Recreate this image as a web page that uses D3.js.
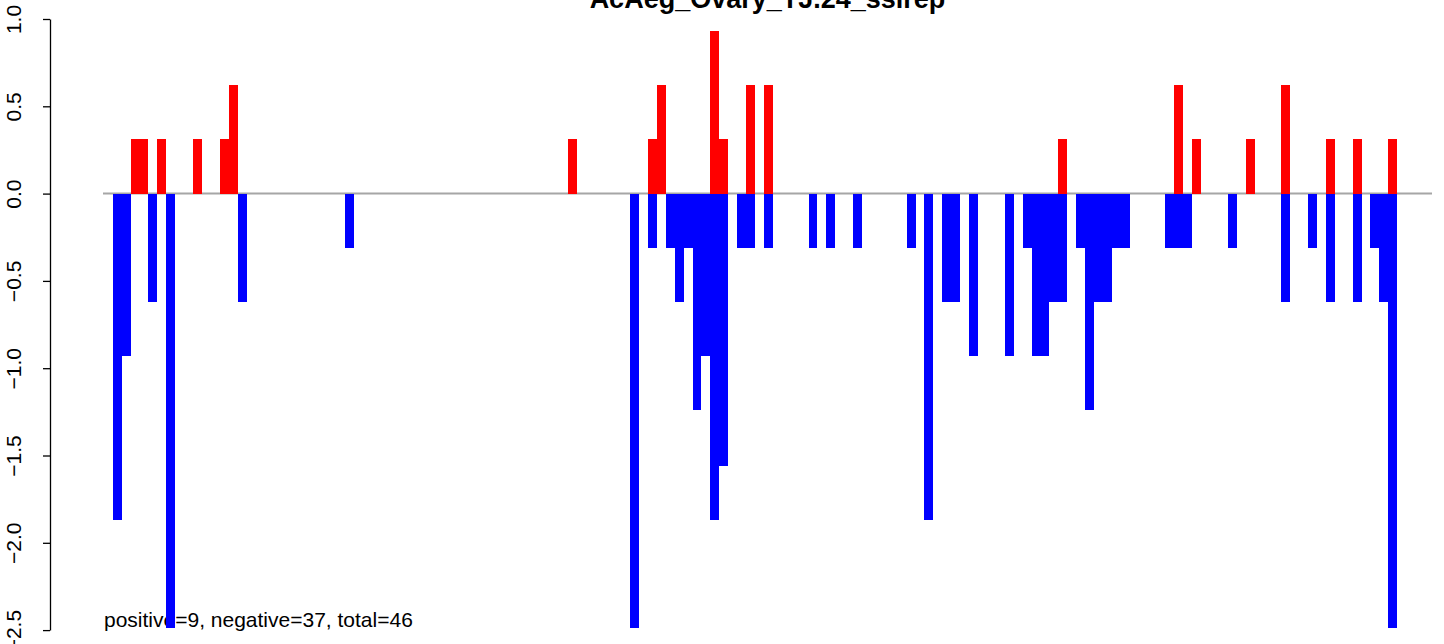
<!DOCTYPE html>
<html>
<head>
<meta charset="utf-8">
<script src="https://cdn.jsdelivr.net/npm/d3@7"></script>
<style>
  html, body { margin: 0; padding: 0; background: #fff; }
  svg { display: block; }
  text { font-family: "Liberation Sans", Arial, Helvetica, sans-serif; }
</style>
</head>
<body>
<svg id="chart" width="1444" height="644"></svg>
<script>
// ---- Data ----
const title = "AcAeg_Ovary_TJ.24_sslrep";
const footnote = "positive=9, negative=37, total=46";

// slot positions (index along the sequence) and values of the positive (red) bars
const posSlots  = [2, 3, 5, 9, 12, 13, 51, 60, 61, 67, 68, 71, 73, 106, 119, 121, 127, 131, 136, 139, 143];
const posValues = [0.31, 0.31, 0.31, 0.31, 0.31, 0.62, 0.31, 0.31, 0.62, 0.93, 0.31, 0.62, 0.62, 0.31, 0.62, 0.31, 0.31, 0.62, 0.31, 0.31, 0.31];

// slot positions and values of the negative (blue) bars
const negSlots  = [0, 1, 4, 6, 14, 26, 58, 60, 62, 63, 64, 65, 66, 67, 68, 70, 71, 73, 78, 80, 83, 89, 91, 93, 94, 96,
                   100, 102, 103, 104, 105, 106, 108, 109, 110, 111, 112, 113, 118, 119, 120, 125, 131, 134, 136, 139, 141, 142, 143];
const negValues = [-1.87, -0.93, -0.62, -2.49, -0.62, -0.31, -2.49, -0.31, -0.31, -0.62, -0.31, -1.24, -0.93, -1.87, -1.56, -0.31, -0.31, -0.31, -0.31, -0.31, -0.31, -0.31, -1.87, -0.62, -0.62, -0.93,
                   -0.93, -0.31, -0.93, -0.93, -0.62, -0.62, -0.31, -1.24, -0.62, -0.62, -0.31, -0.31, -0.31, -0.31, -0.31, -0.31, -0.62, -0.31, -0.62, -0.62, -0.31, -0.62, -2.49];

const yTicks = [-2.5, -2.0, -1.5, -1.0, -0.5, 0.0, 0.5, 1.0];
const xDomain = [-1.1, 147.9];
const yDomain = [-2.5, 1.0];

// ---- Layout ----
const plotLeft = 103, plotRight = 1432;
const yTop = 19, yBottom = 630.1;
const axisX = 50;
const fontSize = 21;

const svg = d3.select("#chart");

const x = d3.scaleLinear().domain(xDomain).range([plotLeft, plotRight]);
const y = d3.scaleLinear().domain(yDomain).range([yBottom, yTop]);

// Title (mostly cut off at the top, as in the reference)
svg.append("text")
  .attr("x", (plotLeft + plotRight) / 2)
  .attr("y", 7.5)
  .attr("text-anchor", "middle")
  .attr("font-weight", "bold")
  .attr("font-size", 27)
  .attr("fill", "#000")
  .text(title);

// zero line
svg.append("line")
  .attr("x1", x(xDomain[0])).attr("x2", x(xDomain[1]))
  .attr("y1", y(0)).attr("y2", y(0))
  .attr("stroke", "#a6a6a6")
  .attr("stroke-width", 2);

// footnote text (drawn before bars; bars overlap it in the reference)
svg.append("text")
  .attr("x", 104)
  .attr("y", 627)
  .attr("font-size", fontSize)
  .attr("fill", "#000")
  .text(footnote);

// bars
const pos = posSlots.map((s, i) => ({ s, v: posValues[i] }));
const neg = negSlots.map((s, i) => ({ s, v: negValues[i] }));

svg.append("g").attr("shape-rendering", "crispEdges")
  .selectAll("rect").data(pos).join("rect")
  .attr("x", d => x(d.s))
  .attr("width", d => x(d.s + 1) - x(d.s))
  .attr("y", d => y(d.v))
  .attr("height", d => y(0) - y(d.v))
  .attr("fill", "#ff0000");

svg.append("g").attr("shape-rendering", "crispEdges")
  .selectAll("rect").data(neg).join("rect")
  .attr("x", d => x(d.s))
  .attr("width", d => x(d.s + 1) - x(d.s))
  .attr("y", y(0))
  .attr("height", d => y(d.v) - y(0))
  .attr("fill", "#0000ff");

// y axis
const yAxis = d3.axisLeft(y)
  .tickValues(yTicks)
  .tickFormat(d3.format(".1f"))
  .tickSizeOuter(0)
  .tickSizeInner(7)
  .tickPadding(0);

const gy = svg.append("g")
  .attr("transform", `translate(${axisX},0)`)
  .call(yAxis);

gy.select(".domain").attr("stroke", "#000").attr("stroke-width", 1.3);
gy.selectAll(".tick line").attr("stroke", "#000").attr("stroke-width", 1.3);
gy.selectAll(".tick text")
  .attr("font-size", fontSize)
  .attr("font-family", "Liberation Sans, Arial, sans-serif")
  .attr("fill", "#000")
  .attr("text-anchor", "middle")
  .attr("dy", null)
  .attr("x", null)
  .attr("transform", `translate(${21 - axisX},0) rotate(-90)`)
  .attr("y", 0)
  .text(d => d3.format(".1f")(d).replace("-", "\u2212"));
</script>
</body>
</html>
